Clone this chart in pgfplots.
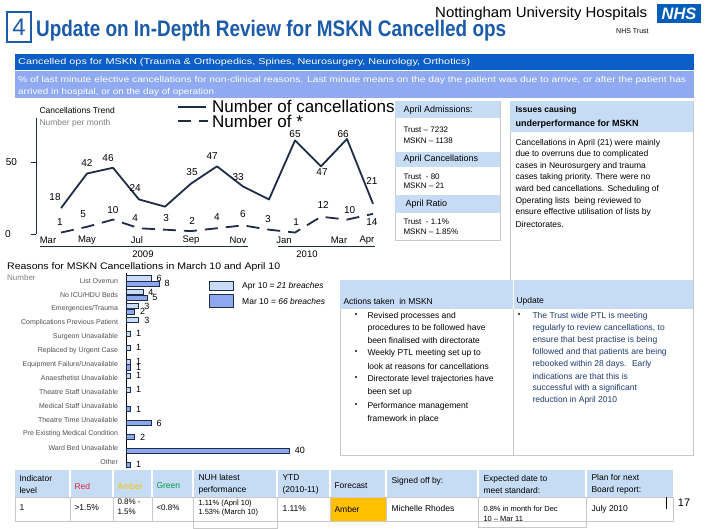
\documentclass[border=0pt]{standalone}
\usepackage{pgfplots}
\pgfplotsset{compat=1.18}
\usepackage{fontspec}
\setmainfont{Liberation Sans}
\definecolor{ttl}{HTML}{1C5BA8}
\definecolor{nhs}{HTML}{005EB8}
\definecolor{bandA}{HTML}{0B5EC6}
\definecolor{bandB}{HTML}{8FAAF0}
\definecolor{hdr}{HTML}{C6DCF5}
\definecolor{navy}{HTML}{1F2C48}
\definecolor{aprf}{HTML}{C9DDF8}
\definecolor{marf}{HTML}{8EA8F0}
\definecolor{bord}{HTML}{C8C8C8}
\definecolor{upd}{HTML}{1F3A70}
\definecolor{redt}{HTML}{E02040}
\definecolor{ambt}{HTML}{F2C200}
\definecolor{grnt}{HTML}{009A44}
\definecolor{ambf}{HTML}{FFC000}
\definecolor{grayt}{HTML}{808080}
\definecolor{cat}{HTML}{505050}
\newcommand\fs[1]{\fontsize{#1}{#1}\selectfont}
\begin{document}
\begin{tikzpicture}[x=1pt,y=1pt]
\begin{scope}[yscale=-1]
\fill[white] (0,0) rectangle (706,529);
% ---- title
\draw[ttl, line width=1.3pt] (7,12) rectangle (31,42);
\node[ttl, font=\fs{24}] at (19,27.5) {4};
\node[ttl, anchor=base west, inner sep=0] at (36,37) {\resizebox{470pt}{\height}{\fs{22.5}\bfseries Update on In-Depth Review for MSKN Cancelled ops}};
\node[anchor=base west, inner sep=0] at (435,18) {\resizebox{212pt}{\height}{\fs{14.5}Nottingham University Hospitals}};
\fill[nhs] (657,4) rectangle (701,23);
\node[white, font=\fs{16.5}\bfseries\itshape] at (679,14) {NHS};
\node[anchor=base west, inner sep=0, font=\fs{7}] at (616,34) {NHS Trust};
% ---- bands
\fill[bandA] (15,54) rectangle (694,70);
\node[white, anchor=base west, inner sep=0] at (18,65) {\resizebox{452pt}{\height}{\fs{8.5}Cancelled ops for MSKN (Trauma \& Orthopedics, Spines, Neurosurgery, Neurology, Orthotics)}};
\fill[bandB] (15,71) rectangle (694,98);
\node[white, anchor=base west, inner sep=0] at (18,83) {\resizebox{668pt}{\height}{\fs{8.5}\% of last minute elective cancellations for non-clinical reasons. Last minute means on the day the patient was due to arrive, or after the patient has}};
\node[white, anchor=base west, inner sep=0] at (18,95) {\resizebox{196pt}{\height}{\fs{8.5}arrived in hospital, or on the day of operation}};
% ---- line chart decorations
\node[anchor=west, font=\fs{8.5}] at (36,110) {Cancellations Trend};
\node[anchor=west, grayt, font=\fs{8.5}] at (36,123) {Number per month};
\node[font=\fs{10}] at (8,234) {0};
\node[font=\fs{10}] at (11.5,162) {50};
\foreach \m/\x in {Mar/48,May/87,Jul/137,Sep/191,Nov/238,Jan/284,Mar/339,Apr/367}
  \node[font=\fs{9.5}] at (\x,240) {\m};
\draw[navy, line width=0.8pt] (40,246) -- (248,246);
\draw[navy, line width=0.8pt] (278,246) -- (375,246);
\node[font=\fs{9.5}] at (143,254) {2009};
\node[font=\fs{9.5}] at (307,254) {2010};
% ---- middle boxes
\draw[bord, fill=white] (395,101) rectangle (500,240);
\fill[hdr] (395,101) rectangle (500,118);
\fill[hdr] (395,152) rectangle (500,167);
\fill[hdr] (395,195) rectangle (500,213);
\node[anchor=west, font=\fs{9}] at (400,110) {April Admissions:};
\node[anchor=west, font=\fs{8}] at (400,130) {Trust -- 7232};
\node[anchor=west, font=\fs{8}] at (400,141) {MSKN -- 1138};
\node[anchor=west, font=\fs{9}] at (400,159.5) {April Cancellations};
\node[anchor=west, font=\fs{8}] at (400,177) {Trust \ - 80};
\node[anchor=west, font=\fs{8}] at (400,186) {MSKN -- 21};
\node[anchor=west, font=\fs{9}] at (402,204) {April Ratio};
\node[anchor=west, font=\fs{8}] at (400,222) {Trust \ - 1.1\%};
\node[anchor=west, font=\fs{8}] at (400,232) {MSKN -- 1.85\%};
\draw[navy, line width=1.8pt] (178,107) -- (206,107);
\draw[navy, line width=1.8pt, dash pattern=on 13pt off 8pt] (178,121) -- (208,121);
\node[anchor=base west, inner sep=0, font=\fs{17}] at (212,113) {Number of cancellations};
\node[anchor=base west, inner sep=0, font=\fs{17}] at (212,128) {Number of *};
% ---- issues box
\draw[bord, fill=white] (510,101) rectangle (693,280);
\fill[hdr] (510,101) rectangle (693,132);
\node[anchor=west, font=\fs{8.5}\bfseries] at (512,110) {Issues causing};
\node[anchor=west, font=\fs{9}\bfseries] at (512,124) {underperformance for MSKN};
\foreach \t [count=\k from 0] in {Cancellations in April (21) were mainly,due to overruns due to complicated,cases in Neurosurgery and trauma,cases taking priority. There were no,ward bed cancellations. Scheduling of,Operating lists \ being reviewed to,ensure effective utilisation of lists by,Directorates.}
  \node[anchor=west, font=\fs{8.5}] at (512,143+11.6*\k) {\t};
% ---- actions box
\draw[bord] (340,280) rectangle (513,455);
\draw[bord] (513,280) rectangle (693,455);
\fill[hdr] (340,280) rectangle (693,309);
\draw[white, line width=1pt] (513,280) -- (513,309);
\node[anchor=west, font=\fs{8.5}] at (340,301) {Actions taken \ in MSKN};
\node[anchor=west, font=\fs{8.5}] at (513,301) {Update};
\foreach \y in {316,353,379,406} \fill[black!70] (354.5,\y-3.2) rectangle (357,\y-0.7);
\foreach \t/\y in {Revised processes and/316,procedures to be followed have/328,been finalised with directorate/340.5,Weekly PTL meeting set up to/353.5,look at reasons for cancellations/366,Directorate level trajectories have/379.5,been set up/392,Performance management/406.5,framework in place/419}
  \node[anchor=west, font=\fs{8.5}] at (364,\y) {\t};
\fill[black!70] (517.5,312.8) rectangle (520,315.3);
\foreach \t [count=\k from 0] in {The Trust wide PTL is meeting,{regularly to review cancellations, to},ensure that best practise is being,followed and that patients are being,rebooked within 28 days. \ Early,indications are that this is,successful with a significant,reduction in April 2010}
  \node[anchor=west, upd, font=\fs{8.5}] at (529,316+12*\k) {\t};
% ---- bar chart decorations
\node[anchor=west, inner sep=0] at (7,267) {\resizebox{273pt}{\height}{\fs{9.5}Reasons for MSKN Cancellations in March 10 and April 10}};
\node[anchor=west, inner sep=0, grayt, font=\fs{8}] at (7,278) {Number};
\filldraw[fill=aprf, draw=navy, line width=0.6pt] (209,281) rectangle (233,290);
\filldraw[fill=marf, draw=navy, line width=0.6pt] (209,294.5) rectangle (233,307);
\node[anchor=west, inner sep=0, font=\fs{8.5}] at (242,286) {Apr 10 = \textit{21 breaches}};
\node[anchor=west, inner sep=0, font=\fs{8.5}] at (242,301) {Mar 10 = \textit{66 breaches}};
% ---- bottom table
\fill[hdr] (15,470) rectangle (673,497);
\foreach \x in {70,113,152,193,277,330,386,478,586} \draw[white, line width=1.2pt] (\x,470) -- (\x,497);
\draw[bord] (15,497) rectangle (673,521);
\foreach \x in {70,113,152,193,277,330,386,478,586} \draw[bord] (\x,497) -- (\x,521);
\draw[bord] (193,521) -- (193,528) -- (277,528) -- (277,521);
\draw[bord] (478,521) -- (478,527) -- (586,527) -- (586,521);
\fill[ambf] (330.5,497.5) rectangle (385.5,520.5);
\node[anchor=west, align=left, font=\fs{8.5}] at (16,484.5) {Indicator\\[3pt]level};
\node[anchor=west, redt, font=\fs{8.5}] at (71,486) {Red};
\node[anchor=west, ambt, font=\fs{8.5}] at (114,486) {Amber};
\node[anchor=west, grnt, font=\fs{8.5}] at (153,486) {Green};
\node[anchor=west, align=left, font=\fs{8.5}] at (195,484.5) {NUH latest\\[3pt]performance};
\node[anchor=west, align=left, font=\fs{8.5}] at (279,484.5) {YTD\\[3pt](2010-11)};
\node[anchor=west, font=\fs{8.5}] at (331,486) {Forecast};
\node[anchor=west, font=\fs{8.5}] at (388,481) {Signed off by:};
\node[anchor=west, align=left, font=\fs{8.5}] at (480,484.5) {Expected date to\\[3pt]meet standard:};
\node[anchor=west, align=left, font=\fs{8.5}] at (588,484.5) {Plan for next\\[3pt]Board report:};
\node[anchor=west, font=\fs{8.5}] at (16,508) {1};
\node[anchor=west, font=\fs{8.5}] at (71,508) {>1.5\%};
\node[anchor=west, align=left, font=\fs{8}] at (114,507) {0.8\% -\\[2pt]1.5\%};
\node[anchor=west, font=\fs{8}] at (153,508) {<0.8\%};
\node[anchor=west, align=left, font=\fs{7.5}] at (195,508) {1.11\% (April 10)\\[2pt]1.53\% (March 10)};
\node[anchor=west, font=\fs{8.5}] at (279,508.5) {1.11\%};
\node[anchor=west, font=\fs{8.5}] at (331,509) {Amber};
\node[anchor=west, font=\fs{8.5}] at (388,508.5) {Michelle Rhodes};
\node[anchor=west, align=left, font=\fs{7.5}] at (480,514) {0.8\% in month for Dec\\[2pt]10 -- Mar 11};
\node[anchor=west, font=\fs{8.5}] at (588,509) {July 2010};
\draw[black, line width=1pt] (666,497) -- (666,509);
\node[font=\fs{11}] at (684,503) {17};
\end{scope}
% ---- line chart
\begin{axis}[at={(36pt,-234pt)}, anchor=south west, scale only axis,
  width=344.8pt, height=115.9pt,
  xmin=-0.9615, xmax=12.3, ymin=0, ymax=80.5,
  axis x line=none, axis y line*=left,
  y axis line style={-, navy, line width=0.9pt},
  ytick={0,50}, yticklabels={,,}, tick align=outside, major tick length=5pt,
  ytick style={navy, line width=0.9pt},
  clip=false]
\addplot[navy, line width=1.8pt, mark=none, line join=round] coordinates {(0,18)(1,42)(2,46)(3,24)(4,19)(5,35)(6,47)(7,33)(8,24)(9,65)(10,47)(11,66)(12,21)};
\addplot[navy, line width=1.8pt, mark=none, dash pattern=on 13pt off 8pt] coordinates {(0,1)(1,5)(2,10)(3,4)(4,3)(5,2)(6,4)(7,6)(8,3)(9,1)(10,12)(11,10)(12,14)};
\foreach \x/\y/\t in {-0.23/25.7/18,1.0/49.3/42,1.81/52.8/46,2.85/31.9/24,5.04/43.1/35,5.81/54.2/47,6.81/39.6/33,9.0/69.4/65,10.04/43.1/47,10.85/69.4/66,11.96/36.8/21,
  -0.04/8.3/1,0.85/13.9/5,2.0/16.7/10,2.85/11.1/4,4.04/11.1/3,5.04/9.0/2,6.0/11.8/4,7.0/13.9/6,7.96/10.4/3,9.04/8.3/1,10.08/20.1/12,11.1/16.7/10,11.96/8.3/14}
  {\edef\tmp{\noexpand\node[font=\noexpand\fs{10}] at (axis cs:\x,\y) {\t};}\tmp}
\end{axis}
% ---- bar chart
\begin{axis}[at={(126.5pt,-465.4pt)}, anchor=south west, scale only axis,
  width=183.2pt, height=192.8pt,
  xbar, xmin=0, xmax=45, ymin=-0.6, ymax=13.25, y dir=reverse,
  axis x line=none, axis y line*=left,
  y axis line style={-, black, line width=1.6pt},
  ytick={0,...,13}, major tick length=0pt,
  yticklabels={List Overrun,No ICU/HDU Beds,Emergencies/Trauma,Complications Previous Patient,Surgeon Unavailable,Replaced by Urgent Case,Equipment Failure/Unavailable,Anaesthetist Unavailable,Theatre Staff Unavailable,Medical Staff Unavailable,Theatre Time Unavailable,Pre Existing Medical Condition,Ward Bed Unavailable,Other},
  yticklabel style={font=\fs{7}, text=cat, xshift=-5pt},
  bar width=5.3pt,
  nodes near coords, nodes near coords align={horizontal},
  every node near coord/.append style={font=\fs{9}, text=black, xshift=2pt},
  /pgf/number format/assume math mode=true,
  clip=false]
\addplot[fill=aprf, draw=navy, line width=0.5pt, bar shift=2.8pt] coordinates {(6,0)(4,1)(3,2)(3,3)(1,4)(1,5)(1,6)(1,7)(1,8)};
\addplot[fill=marf, draw=navy, line width=0.5pt, bar shift=-2.8pt] coordinates {(8,0)(5,1)(2,2)(1,6)(1,9)(6,10)(2,11)(40,12)(1,13)};
\end{axis}
\pgfresetboundingbox
\path[use as bounding box] (0pt,0pt) rectangle (706pt,-529pt);
\end{tikzpicture}
\end{document}
